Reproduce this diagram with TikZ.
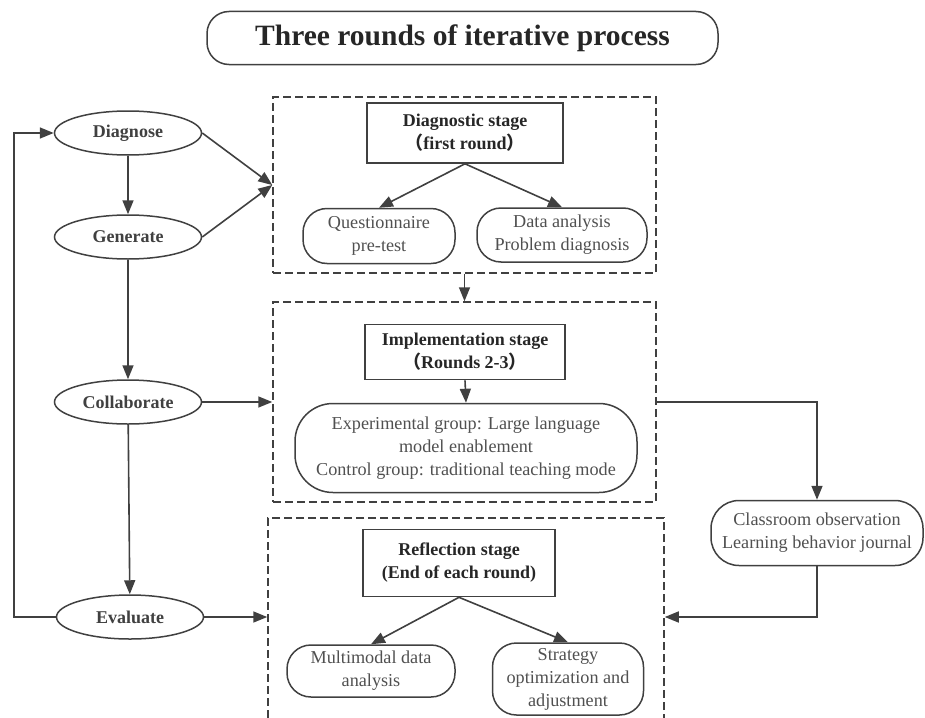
\documentclass[tikz,border=0pt]{standalone}
\usepackage{fontspec}
\setmainfont{Liberation Serif}
\newfontfamily\cjk{Noto Sans CJK SC}
\usetikzlibrary{shapes.geometric,arrows.meta,calc}
\definecolor{linegray}{RGB}{64,64,64}
\definecolor{textgray}{RGB}{80,80,80}
\tikzset{
  oval/.style={ellipse, draw=linegray, line width=1.5pt, minimum width=147pt, minimum height=44pt,
    inner sep=1pt, text=linegray, font=\fontsize{18}{20}\selectfont\bfseries},
  stagebox/.style={rectangle, draw=linegray, line width=1.6pt, align=center,
    text=black!85, font=\fontsize{18}{23}\selectfont\bfseries},
  pill/.style={rectangle, rounded corners=24pt, draw=linegray, line width=1.5pt, align=center,
    inner sep=2pt, text=textgray, font=\fontsize{18.2}{23}\selectfont},
  stage/.style={rectangle, draw=linegray, dash pattern=on 8pt off 4pt, line width=1.5pt},
  arr/.style={-{Triangle[length=14pt,width=11pt]}, draw=linegray, line width=1.6pt},
}

\begin{document}
\begin{tikzpicture}[x=1pt,y=-1pt]
\useasboundingbox (0,0) rectangle (925,717);
\clip (0,0) rectangle (925,717);

% title
\node[draw=linegray, line width=1.5pt, rounded corners=22pt, minimum width=511pt, minimum height=53pt,
  font=\fontsize{29.5}{32}\selectfont\bfseries, text=black!85] (title) at (462.5,38) {Three rounds of iterative process};

% cycle on the left
\node[oval] (diagnose) at (128,133) {Diagnose};
\node[oval] (generate) at (128,237) {Generate};
\node[oval] (collab) at (128,402) {Collaborate};
\node[oval] (evaluate) at (130,617) {Evaluate};
\coordinate (loop) at (14,617);

% stage frames
\node[stage, minimum width=383pt, minimum height=176pt] (box1) at (464.5,185) {};
\node[stage, minimum width=383pt, minimum height=200pt] (box2) at (464.5,402) {};
\node[stage, minimum width=396pt, minimum height=240pt] (box3) at (466,638) {};

% diagnostic stage
\node[stagebox, minimum width=196pt, minimum height=60pt] (diag) at (465,133) {Diagnostic stage\\{\cjk （}first round{\cjk ）}};
\node[pill, minimum width=152pt, minimum height=55pt] (quest) at (379,236) {Questionnaire\\pre-test};
\node[pill, minimum width=170pt, minimum height=54pt] (data) at (562,235) {Data analysis\\Problem diagnosis};

% implementation stage
\node[stagebox, minimum width=200pt, minimum height=55pt] (impl) at (465,352) {Implementation stage\\{\cjk （}Rounds 2-3{\cjk ）}};
\node[pill, rounded corners=38pt, minimum width=342pt, minimum height=89pt] (exper) at (466,448)
  {Experimental group: Large language\\model enablement\\Control group: traditional teaching mode};

% reflection stage
\node[stagebox, minimum width=192pt, minimum height=67pt] (refl) at (459,563) {Reflection stage\\(End of each round)};
\node[pill, minimum width=168pt, minimum height=52pt] (multi) at (371,671) {Multimodal data\\analysis};
\node[pill, minimum width=151pt, minimum height=72pt] (strat) at (568,679) {Strategy\\optimization and\\adjustment};

% observation
\node[pill, rounded corners=28pt, minimum width=212pt, minimum height=65pt] (obs) at (817,533) {Classroom observation\\Learning behavior journal};

% connectors
\draw[arr] (diagnose) -- (generate);
\draw[arr] (generate) -- (collab);
\draw[arr] (collab) -- (evaluate);
\draw[arr] (evaluate.west) -- (loop) |- (diagnose.west);
\draw[arr] (diagnose.east) -- (box1.west);
\draw[arr] (generate.east) -- (box1.west);
\draw[arr] (collab.east) -- (box2.west);
\draw[arr] (evaluate.east) -- (evaluate.east -| box3.west);
\draw[arr] (diag.south) -- (quest.north);
\draw[arr] (diag.south) -- (data.north);
\draw[arr] (box1.south) -- (box2.north);
\draw[arr] (impl.south) -- (exper.north);
\draw[arr] (refl.south) -- (multi.north);
\draw[arr] (refl.south) -- (strat.north);
\draw[arr] (box2.east) -| (obs.north);
\draw[arr] (obs.south) |- (evaluate -| box3.east);

\end{tikzpicture}
\end{document}
